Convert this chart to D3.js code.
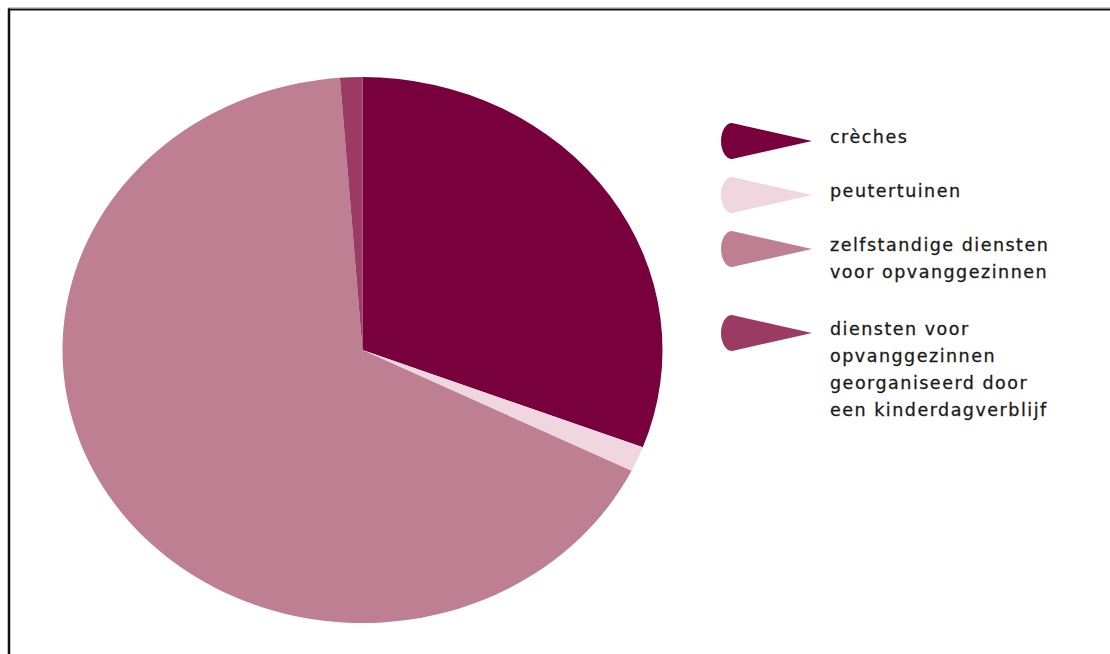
<!DOCTYPE html>
<html>
<head>
<meta charset="utf-8">
<script src="https://cdn.jsdelivr.net/npm/d3@7"></script>
<style>
  html, body { margin: 0; padding: 0; background: #fff; }
  svg { display: block; }
</style>
</head>
<body>
<svg id="chart" width="1110" height="654"></svg>
<script>
// Data
const categories = ["crèches", "peutertuinen", "zelfstandige diensten voor opvanggezinnen", "diensten voor opvanggezinnen georganiseerd door een kinderdagverblijf"];
const values = [30.8, 1.5, 66.5, 1.2];
const legendLines = [
  ["crèches"],
  ["peutertuinen"],
  ["zelfstandige diensten", "voor opvanggezinnen"],
  ["diensten voor", "opvanggezinnen", "georganiseerd door", "een kinderdagverblijf"]
];
const colors = ["#78003c", "#f0d6df", "#be7f92", "#9b3a62"];

const svg = d3.select("#chart");

// Frame
svg.append("line").attr("x1", 8).attr("x2", 1110).attr("y1", 7.5).attr("y2", 7.5)
  .attr("stroke", "#c8c8c8").attr("stroke-width", 1);
svg.append("line").attr("x1", 8).attr("x2", 1110).attr("y1", 9.5).attr("y2", 9.5)
  .attr("stroke", "#111").attr("stroke-width", 2);
svg.append("line").attr("x1", 9).attr("x2", 9).attr("y1", 8.5).attr("y2", 654)
  .attr("stroke", "#111").attr("stroke-width", 2.5);

// Pie
const color = d3.scaleOrdinal().domain(categories).range(colors);
const pie = d3.pie().sort(null).value(d => d.value).startAngle(0).endAngle(2 * Math.PI);
const arc = d3.arc().innerRadius(0).outerRadius(300);
const data = categories.map((c, i) => ({ name: c, value: values[i] }));

const g = svg.append("g").attr("transform", "translate(362.5,350) scale(1,0.91)");
g.selectAll("path").data(pie(data)).join("path")
  .attr("d", arc)
  .attr("fill", d => color(d.data.name));

// Legend
const legendY = d3.scaleOrdinal().domain(categories).range([141, 195, 249, 333]);
const lg = svg.append("g");
const item = lg.selectAll("g.item").data(categories).join("g")
  .attr("class", "item")
  .attr("transform", d => `translate(0,${legendY(d)})`);

item.append("path")
  .attr("d", "M812,0 L732,-18 A11,18 0 0 0 732,18 Z")
  .attr("fill", d => color(d));

item.each(function(d, i) {
  const t = d3.select(this).append("text")
    .attr("x", 830)
    .attr("y", 2)
    .attr("font-family", "'DejaVu Sans', sans-serif")
    .attr("font-size", 17.5)
    .attr("letter-spacing", 1.5)
    .attr("stroke", "#1a1a1a")
    .attr("stroke-width", 0.3)
    .attr("fill", "#1a1a1a");
  legendLines[i].forEach((line, j) => {
    t.append("tspan").attr("x", 830).attr("dy", j === 0 ? 0 : 27).text(line);
  });
});
</script>
</body>
</html>
